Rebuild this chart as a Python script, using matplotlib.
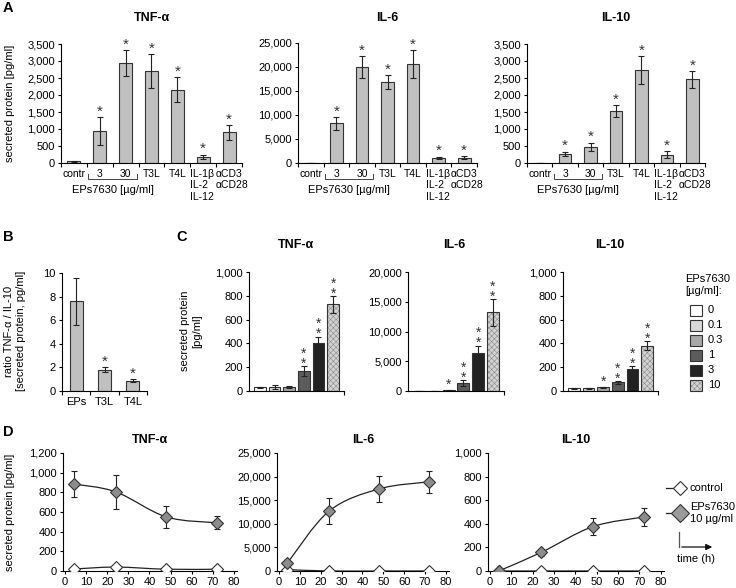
import matplotlib
matplotlib.use('Agg')
import matplotlib.pyplot as plt
import numpy as np
from matplotlib.ticker import FuncFormatter
from matplotlib.path import Path
from matplotlib.patches import PathPatch, Rectangle, FancyArrowPatch
from matplotlib.lines import Line2D
import matplotlib.transforms as mtransforms

plt.rcParams['font.family'] = ['Liberation Sans', 'DejaVu Sans']
plt.rcParams['font.size'] = 8
plt.rcParams['axes.linewidth'] = 0.8
plt.rcParams['xtick.major.size'] = 2.5
plt.rcParams['ytick.major.size'] = 2.5
plt.rcParams['xtick.minor.size'] = 2.5
plt.rcParams['xtick.major.width'] = 0.8
plt.rcParams['ytick.major.width'] = 0.8
plt.rcParams['xtick.minor.width'] = 0.8
plt.rcParams['hatch.linewidth'] = 0.4

NARROW = ['Liberation Sans Narrow', 'Liberation Sans', 'DejaVu Sans']

# ---------------- data ----------------
a_categories = ['contr', '3', '30', 'T3L', 'T4L', 'IL-1β\nIL-2\nIL-12', 'αCD3\nαCD28']
a_tnf = [50, 940, 2930, 2700, 2160, 185, 900]
a_tnf_err = [15, 410, 380, 500, 360, 60, 210]
a_tnf_star = [0, 1, 1, 1, 1, 1, 1]
a_il6 = [0, 8250, 20000, 16900, 20700, 1050, 1130]
a_il6_err = [0, 1400, 2300, 1500, 2900, 300, 300]
a_il6_star = [0, 1, 1, 1, 1, 1, 1]
a_il10 = [0, 265, 480, 1530, 2735, 250, 2460]
a_il10_err = [0, 70, 120, 170, 420, 100, 250]
a_il10_star = [0, 1, 1, 1, 1, 1, 1]

b_categories = ['EPs', 'T3L', 'T4L']
b_ratio = [7.6, 1.8, 0.87]
b_err = [2.0, 0.22, 0.12]
b_star = [0, 1, 1]

c_doses = ['0', '0.1', '0.3', '1', '3', '10']
c_tnf = [30, 33, 35, 168, 405, 728]
c_tnf_err = [6, 14, 8, 38, 52, 70]
c_tnf_star = [0, 0, 0, 2, 2, 2]
c_il6 = [40, 50, 90, 1320, 6330, 13200]
c_il6_err = [10, 10, 20, 470, 1300, 2250]
c_il6_star = [0, 0, 1, 2, 2, 2]
c_il10 = [22, 23, 30, 73, 185, 380]
c_il10_err = [4, 4, 5, 12, 25, 37]
c_il10_star = [0, 0, 1, 2, 2, 2]
c_colors = ['#ffffff', '#d9d9d9', '#a8a8a8', '#5c5c5c', '#222222', '#d2d2d2']

d_time = [4, 24, 48, 72]
d_tnf_eps = [885, 805, 550, 490]
d_tnf_eps_err = [130, 170, 110, 65]
d_tnf_ctrl = [20, 40, 18, 18]
d_il6_eps = [1700, 12700, 17400, 18900]
d_il6_eps_err = [0, 2750, 2750, 2350]
d_il6_ctrl = [300, 0, 0, 0]
d_il10_eps = [0, 158, 375, 458]
d_il10_eps_err = [0, 30, 72, 80]
d_il10_ctrl = [0, 0, 0, 0]

# ---------------- figure ----------------
W, H = 736, 588
fig = plt.figure(figsize=(W / 100, H / 100), dpi=100)


def fx(x):
    return x / W


def fy(y):
    return 1 - y / H


def add_ax(l, t, r, b):
    ax = fig.add_axes([l / W, 1 - b / H, (r - l) / W, (b - t) / H])
    ax.spines['top'].set_visible(False)
    ax.spines['right'].set_visible(False)
    ax.tick_params(direction='out', labelsize=8, pad=2)
    return ax


comma = FuncFormatter(lambda v, p: f'{v:,.0f}')
EDGE = '#333333'


def stars(ax, xs, tops, counts, size=11):
    for x, t, c in zip(xs, tops, counts):
        if c == 1:
            ax.annotate('*', (x, t), xytext=(0, 1), textcoords='offset points',
                        ha='center', va='baseline', fontsize=size, color='#333333')
        elif c == 2:
            ax.annotate('*\n*', (x, t), xytext=(0, -3.2), textcoords='offset points',
                        ha='center', va='bottom', fontsize=size, color='#333333', linespacing=0.62)


def bar_panel(ax, cats, vals, errs, starc, ymax, ystep):
    x = np.arange(len(cats))
    ax.bar(x, vals, width=0.5, color='#c0c0c0', edgecolor=EDGE, linewidth=0.8)
    ax.errorbar(x, vals, yerr=errs, fmt='none', ecolor='#222222', elinewidth=0.8, capsize=2.5, capthick=0.8)
    ax.set_xlim(-0.5, len(cats) - 0.5)
    ax.set_ylim(0, ymax)
    ax.set_yticks(np.arange(0, ymax + 1e-9, ystep))
    ax.yaxis.set_major_formatter(comma)
    label_pos = list(x.astype(float))
    label_pos[-2] -= 0.04
    label_pos[-1] += 0.1
    ax.set_xticks(label_pos)
    ax.set_xticklabels(cats, fontsize=7.5, linespacing=1.2, family=NARROW)
    for lab in ax.get_xticklabels():
        lab.set_multialignment('left')
    ax.tick_params(axis='x', which='major', length=0, pad=4)
    ax.set_xticks(np.arange(-0.5, len(cats)), minor=True)
    ax.tick_params(axis='x', which='minor', length=3)
    tops = [v + e for v, e in zip(vals, errs)]
    stars(ax, x, tops, starc)


# ---------------- panel A ----------------
a_axes = [add_ax(61, 44, 242, 163), add_ax(298, 43, 477, 163), add_ax(527, 44, 705, 163)]
a_sets = [(a_tnf, a_tnf_err, a_tnf_star, 3500, 500, 'TNF-α'),
          (a_il6, a_il6_err, a_il6_star, 25000, 5000, 'IL-6'),
          (a_il10, a_il10_err, a_il10_star, 3500, 500, 'IL-10')]
for ax, (v, e, s, ym, st, title) in zip(a_axes, a_sets):
    bar_panel(ax, a_categories, v, e, s, ym, st)
    pos = ax.get_position()
    fig.text((pos.x0 + pos.x1) / 2, fy(18), title, ha='center', va='center', fontsize=9, fontweight='bold')
    tr = mtransforms.blended_transform_factory(ax.transData, ax.transAxes)
    h = pos.height * H
    yb = -(179 - 163) / h
    yt = -(174 - 163) / h
    ax.plot([0.55, 0.55, 2.45, 2.45], [yt, yb, yb, yt], transform=tr, color='#444444', lw=0.7, clip_on=False)
    ax.text(1.5, -(190 - 163) / h, 'EPs7630 [µg/ml]', transform=tr, ha='center', va='center',
            fontsize=8, family=NARROW)

fig.text(fx(10), fy(103), 'secreted protein [pg/ml]', rotation=90, ha='center', va='center', fontsize=8)

# ---------------- panel B ----------------
axb = add_ax(62, 273, 147, 391)
xb = np.arange(len(b_categories))
axb.bar(xb, b_ratio, width=0.45, color='#c0c0c0', edgecolor=EDGE, linewidth=0.8)
axb.errorbar(xb, b_ratio, yerr=b_err, fmt='none', ecolor='#222222', elinewidth=0.8, capsize=2.5, capthick=0.8)
axb.set_xlim(-0.5, 2.5)
axb.set_ylim(0, 10)
axb.set_yticks(np.arange(0, 11, 2))
axb.set_xticks(xb)
axb.set_xticklabels(b_categories, fontsize=8, family=NARROW)
axb.tick_params(axis='x', which='major', length=0, pad=4)
axb.set_xticks(np.arange(-0.5, 3), minor=True)
axb.tick_params(axis='x', which='minor', length=3)
stars(axb, xb, [v + e for v, e in zip(b_ratio, b_err)], b_star)
fig.text(fx(15), fy(331), 'ratio TNF-α / IL-10\n[secreted protein, pg/ml]', rotation=90,
         ha='center', va='center', fontsize=8, linespacing=1.2)

# ---------------- panel C ----------------
c_axes = [add_ax(249, 272, 344, 391), add_ax(408, 272, 504, 391), add_ax(563, 272, 658, 391)]
c_sets = [(c_tnf, c_tnf_err, c_tnf_star, 1000, 200, 'TNF-α', 296),
          (c_il6, c_il6_err, c_il6_star, 20000, 5000, 'IL-6', 454),
          (c_il10, c_il10_err, c_il10_star, 1000, 200, 'IL-10', 610)]
xc = np.arange(len(c_doses))
for ax, (v, e, s, ym, st, title, tx) in zip(c_axes, c_sets):
    for i in range(len(c_doses)):
        if i == 5:
            ax.bar(xc[i], v[i], width=0.8, color=c_colors[i], edgecolor='#8a8a8a', linewidth=0, hatch='xxxxxx')
            ax.bar(xc[i], v[i], width=0.8, fill=False, edgecolor=EDGE, linewidth=0.8)
        else:
            ax.bar(xc[i], v[i], width=0.8, color=c_colors[i], edgecolor=EDGE, linewidth=0.8)
    ax.errorbar(xc, v, yerr=e, fmt='none', ecolor='#222222', elinewidth=0.8, capsize=2.5, capthick=0.8)
    ax.set_xlim(-0.75, 5.75)
    ax.set_ylim(0, ym)
    ax.set_yticks(np.arange(0, ym + 1e-9, st))
    ax.yaxis.set_major_formatter(comma)
    ax.set_xticks([5.75])
    ax.set_xticklabels([''])
    ax.tick_params(axis='x', length=3)
    stars(ax, xc, [a + b for a, b in zip(v, e)], s, size=10)
    fig.text(fx(tx), fy(245), title, ha='center', va='center', fontsize=9, fontweight='bold')

fig.text(fx(191), fy(331), 'secreted protein\n[pg/ml]', rotation=90, ha='center', va='center',
         fontsize=8, linespacing=1.2)

# legend C
fig.text(fx(685), fy(274), 'EPs7630\n[µg/ml]:', ha='left', va='top', fontsize=8, linespacing=1.3)
for i, lab in enumerate(c_doses):
    yc = 310 + 15 * i
    if i == 5:
        fig.add_artist(Rectangle((fx(690), fy(yc + 5.5)), 12 / W, 11 / H, transform=fig.transFigure,
                                 facecolor=c_colors[i], edgecolor='#8a8a8a', linewidth=0, hatch='xxxxxx'))
        fig.add_artist(Rectangle((fx(690), fy(yc + 5.5)), 12 / W, 11 / H, transform=fig.transFigure,
                                 fill=False, edgecolor=EDGE, linewidth=0.8))
    else:
        fig.add_artist(Rectangle((fx(690), fy(yc + 5.5)), 12 / W, 11 / H, transform=fig.transFigure,
                                 facecolor=c_colors[i], edgecolor=EDGE, linewidth=0.8))
    fig.text(fx(708), fy(yc), lab, ha='left', va='center', fontsize=8)


# ---------------- panel D ----------------
def smooth_path(x, y):
    verts = [(x[0], y[0])]
    codes = [Path.MOVETO]
    n = len(x)
    for i in range(n - 1):
        x0, y0 = (x[i - 1], y[i - 1]) if i > 0 else (x[i], y[i])
        x3, y3 = (x[i + 2], y[i + 2]) if i + 2 < n else (x[i + 1], y[i + 1])
        c1 = (x[i] + (x[i + 1] - x0) / 6, y[i] + (y[i + 1] - y0) / 6)
        c2 = (x[i + 1] - (x3 - x[i]) / 6, y[i + 1] - (y3 - y[i]) / 6)
        verts += [c1, c2, (x[i + 1], y[i + 1])]
        codes += [Path.CURVE4] * 3
    return Path(verts, codes)


d_axes = [add_ax(63, 453, 237, 571), add_ax(277, 453, 449, 571), add_ax(488, 453, 664, 571)]
d_sets = [(d_tnf_eps, d_tnf_eps_err, d_tnf_ctrl, 1200, 200, 'TNF-α'),
          (d_il6_eps, d_il6_eps_err, d_il6_ctrl, 25000, 5000, 'IL-6'),
          (d_il10_eps, d_il10_eps_err, d_il10_ctrl, 1000, 200, 'IL-10')]
for ax, (ev, ee, cv, ym, st, title) in zip(d_axes, d_sets):
    ax.add_patch(PathPatch(smooth_path(d_time, cv), fill=False, edgecolor='#222222', lw=0.9))
    ax.add_patch(PathPatch(smooth_path(d_time, ev), fill=False, edgecolor='#222222', lw=0.9))
    ax.plot(d_time, cv, linestyle='none', marker='D', markersize=6, markerfacecolor='white',
            markeredgecolor=EDGE, markeredgewidth=0.8, zorder=4)
    ax.errorbar(d_time, ev, yerr=ee, fmt='none', ecolor='#222222', elinewidth=0.8, capsize=2.5,
                capthick=0.8, zorder=3)
    ax.plot(d_time, ev, linestyle='none', marker='D', markersize=6.5, markerfacecolor='#8c8c8c',
            markeredgecolor=EDGE, markeredgewidth=0.8, zorder=5)
    ax.set_xlim(-1, 81.5)
    ax.set_ylim(0, ym)
    ax.set_xticks(np.arange(0, 81, 10))
    ax.set_yticks(np.arange(0, ym + 1e-9, st))
    ax.yaxis.set_major_formatter(comma)
    for lab in ax.get_yticklabels() + ax.get_xticklabels():
        lab.set_family(NARROW)
    pos = ax.get_position()
    fig.text((pos.x0 + pos.x1) / 2, fy(440), title, ha='center', va='center', fontsize=9, fontweight='bold')

fig.text(fx(10), fy(512), 'secreted protein [pg/ml]', rotation=90, ha='center', va='center', fontsize=8)

# legend D
fig.add_artist(Line2D([fx(666), fx(680)], [fy(488), fy(488)], transform=fig.transFigure, color='#222222', lw=0.9))
fig.add_artist(Line2D([fx(680)], [fy(488)], transform=fig.transFigure, marker='D', markersize=7,
                      markerfacecolor='white', markeredgecolor=EDGE, markeredgewidth=0.8))
fig.text(fx(690), fy(488), 'control', ha='left', va='center', fontsize=8)
fig.add_artist(Line2D([fx(666), fx(680)], [fy(513), fy(513)], transform=fig.transFigure, color='#222222', lw=0.9))
fig.add_artist(Line2D([fx(680)], [fy(513)], transform=fig.transFigure, marker='D', markersize=9,
                      markerfacecolor='#9a9a9a', markeredgecolor=EDGE, markeredgewidth=0.8))
fig.text(fx(690), fy(513), 'EPs7630\n10 µg/ml', ha='left', va='center', fontsize=8, linespacing=1.15)
fig.add_artist(Line2D([fx(679), fx(679)], [fy(532), fy(547)], transform=fig.transFigure, color='#555555', lw=0.9))
fig.add_artist(FancyArrowPatch((fx(679), fy(547)), (fx(715), fy(547)), transform=fig.transFigure,
                               arrowstyle='-|>', mutation_scale=9, color='#111111', lw=0.9))
fig.text(fx(677), fy(559), 'time (h)', ha='left', va='center', fontsize=8)

# panel letters
for lab, x, y in [('A', 8, 8), ('B', 8, 237), ('C', 182, 237), ('D', 8, 432)]:
    fig.text(fx(x), fy(y), lab, ha='center', va='center', fontsize=10.5, fontweight='bold')

fig.savefig('out.png', dpi=100)
